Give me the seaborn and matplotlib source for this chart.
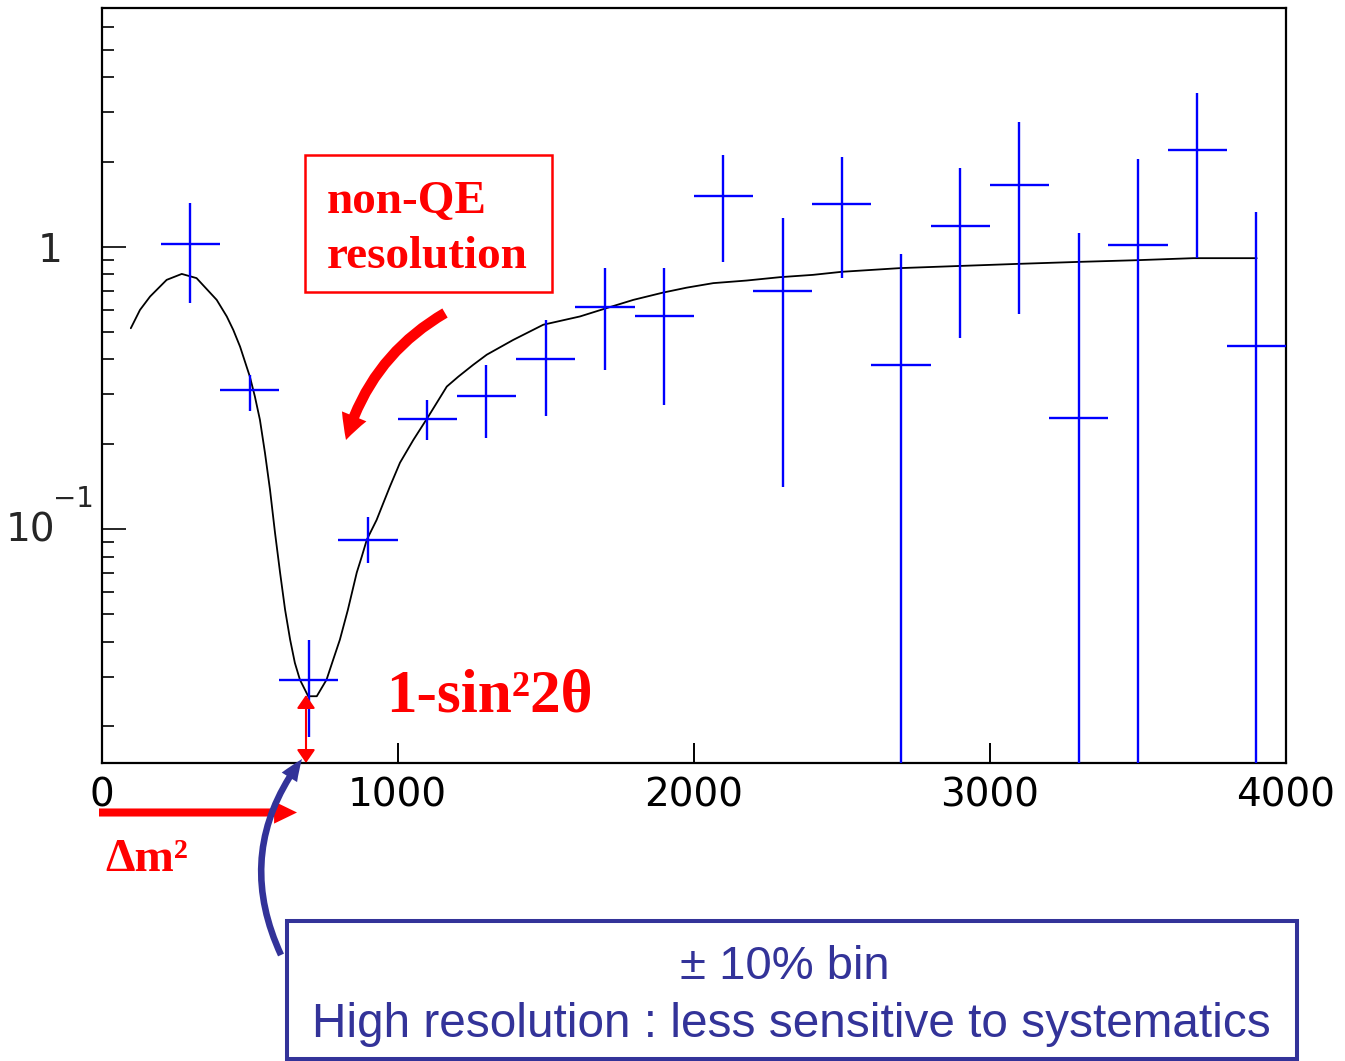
import numpy as np
import pandas as pd
import matplotlib
matplotlib.use("Agg")
import matplotlib.pyplot as plt
import seaborn as sns
from matplotlib.patches import FancyArrowPatch, Rectangle, ArrowStyle
from matplotlib.ticker import LogLocator, FixedLocator, NullFormatter
import matplotlib.transforms as mtrans

# ---------------- data ----------------
bin_centers = [300, 500, 700, 900, 1100, 1300, 1500, 1700, 1900, 2100,
               2300, 2500, 2700, 2900, 3100, 3300, 3500, 3700, 3900]
ratio = [1.02, 0.31, 0.0293, 0.0918, 0.2455, 0.297, 0.400, 0.612, 0.567, 1.515,
         0.695, 1.42, 0.381, 1.19, 1.658, 0.248, 1.016, 2.20, 0.446]
ratio_high = [1.43, 0.352, 0.0406, 0.110, 0.287, 0.382, 0.552, 0.845, 0.845, 2.12,
              1.27, 2.08, 0.945, 1.90, 2.78, 1.124, 2.05, 3.52, 1.33]
ratio_low = [0.634, 0.263, 0.0183, 0.0759, 0.207, 0.210, 0.251, 0.367, 0.276, 0.885,
             0.141, 0.777, 0.001, 0.474, 0.579, 0.001, 0.001, 0.912, 0.001]
bin_half_width = 100

curve_x = [99, 130, 164, 220, 271, 321, 389, 423, 445, 468, 501, 518, 535, 552,
           569, 586, 603, 620, 637, 653, 670, 698, 727, 760, 782, 805, 832, 862,
           879, 896, 929, 952, 974, 1008, 1053, 1104, 1166, 1205, 1255, 1301,
           1390, 1492, 1616, 1706, 1796, 1897, 1976, 2066, 2179, 2291, 2403,
           2500, 2697, 2900, 3102, 3304, 3496, 3687, 3901]
curve_y = [0.515, 0.598, 0.667, 0.764, 0.802, 0.775, 0.649, 0.567, 0.508, 0.443,
           0.347, 0.295, 0.244, 0.1864, 0.138, 0.097, 0.0702, 0.0518, 0.0406,
           0.0336, 0.0293, 0.0256, 0.0256, 0.0293, 0.0344, 0.0406, 0.0518, 0.0702,
           0.080, 0.0918, 0.1078, 0.124, 0.1416, 0.172, 0.207, 0.251, 0.320, 0.347,
           0.382, 0.415, 0.468, 0.530, 0.567, 0.607, 0.649, 0.689, 0.717, 0.744,
           0.760, 0.781, 0.796, 0.816, 0.841, 0.856, 0.871, 0.885, 0.897, 0.912,
           0.912]

x_ticks = [0, 1000, 2000, 3000, 4000]
x_tick_labels = ["0", "1000", "2000", "3000", "4000"]

# ---------------- style ----------------
sns.set_style("white")
plt.rcParams["font.family"] = ["DejaVu Sans"]

W, H = 1345, 1061
fig = plt.figure(figsize=(W / 100, H / 100), dpi=100)
fig.patch.set_facecolor("white")


def fp(x, y):
    """top-left pixel -> figure fraction"""
    return (x / W, 1 - y / H)


ax_left, ax_right, ax_top, ax_bottom = 101.5, 1286, 8.3, 763
ax = fig.add_axes([ax_left / W, 1 - ax_bottom / H,
                   (ax_right - ax_left) / W, (ax_bottom - ax_top) / H])

df_curve = pd.DataFrame({"x": curve_x, "y": curve_y})
sns.lineplot(data=df_curve, x="x", y="y", sort=False, estimator=None,
             color="black", linewidth=1.3, ax=ax)

r = np.array(ratio)
yerr = [r - np.array(ratio_low), np.array(ratio_high) - r]
ax.errorbar(bin_centers, ratio, xerr=bin_half_width, yerr=yerr, fmt="none",
            ecolor="#0000ff", elinewidth=1.7, capsize=0, zorder=3)

ax.set_yscale("log")
ax.set_xlim(0, 4000)
ax.set_ylim(0.01485, 7.0)
ax.set_xlabel("")
ax.set_ylabel("")

for s in ax.spines.values():
    s.set_visible(True)
    s.set_color("black")
    s.set_linewidth(1.6)

ax.xaxis.set_major_locator(FixedLocator(x_ticks))
ax.set_xticklabels(x_tick_labels)
ax.yaxis.set_major_locator(FixedLocator([0.1, 1.0]))
ax.yaxis.set_minor_locator(LogLocator(base=10, subs=np.arange(2, 10)))
ax.yaxis.set_major_formatter(NullFormatter())
ax.yaxis.set_minor_formatter(NullFormatter())
ax.tick_params(axis="x", which="major", direction="in", length=14.4, width=1.4,
               labelsize=28, pad=10, bottom=True, top=False, colors="black")
ax.tick_params(axis="y", which="major", direction="in", length=17.5, width=1.4,
               left=True, right=False)
ax.tick_params(axis="y", which="minor", direction="in", length=8.6, width=1.4,
               left=True, right=False)

blend = mtrans.blended_transform_factory(ax.transAxes, ax.transData)
ax.annotate("1", xy=(0, 1.0), xycoords=blend, xytext=(-39, -15),
            textcoords="offset pixels", ha="right", va="baseline", fontsize=28)
ax.annotate("10", xy=(0, 0.1), xycoords=blend, xytext=(-46, -12),
            textcoords="offset pixels", ha="right", va="baseline", fontsize=28,
            annotation_clip=False)
ax.annotate("\u22121", xy=(0, 0.1), xycoords=blend, xytext=(-48, 22),
            textcoords="offset pixels", ha="left", va="baseline", fontsize=20,
            annotation_clip=False)

# ---------------- annotations ----------------
red = "#ff0000"
navy = "#333399"
serif = ["Liberation Serif", "DejaVu Serif"]
sans = ["Liberation Sans", "DejaVu Sans"]

# red box
x0, y0 = fp(305, 292)
x1, y1 = fp(552, 155)
fig.add_artist(Rectangle((x0, y0), x1 - x0, y1 - y0, transform=fig.transFigure,
                         fill=False, edgecolor=red, linewidth=1.8))
fig.text(*fp(327, 213), "non-QE", color=red, fontsize=34, fontweight="bold",
         family=serif, ha="left", va="baseline")
fig.text(*fp(327, 268), "resolution", color=red, fontsize=34, fontweight="bold",
         family=serif, ha="left", va="baseline")

# red curved arrow
fig.add_artist(FancyArrowPatch(fp(445, 313), fp(346, 440), transform=fig.transFigure,
                               arrowstyle=ArrowStyle.Simple(head_length=18, head_width=19,
                                                            tail_width=7.6),
                               connectionstyle="arc3,rad=0.2", mutation_scale=1,
                               color=red, linewidth=0, shrinkA=0, shrinkB=0))

# 1-sin^2 2theta
fig.text(*fp(386, 712), "1-sin\u00b22\u03b8", color=red, fontsize=44, fontweight="bold",
         family=serif, ha="left", va="baseline")

# red vertical double arrow
fig.add_artist(FancyArrowPatch(fp(306, 763), fp(306, 695), transform=fig.transFigure,
                               arrowstyle=ArrowStyle("<|-|>", head_length=8, head_width=5.5),
                               mutation_scale=1, color=red, linewidth=1.5,
                               shrinkA=0, shrinkB=0))

# red horizontal arrow
fig.add_artist(FancyArrowPatch(fp(99, 812.5), fp(297, 812.5), transform=fig.transFigure,
                               arrowstyle=ArrowStyle.Simple(head_length=16.5, head_width=16,
                                                            tail_width=5.8),
                               mutation_scale=1, color=red, linewidth=0,
                               shrinkA=0, shrinkB=0))
fig.text(*fp(105, 871), "\u0394m\u00b2", color=red, fontsize=34, fontweight="bold",
         family=serif, ha="left", va="baseline")

# blue curved arrow
fig.add_artist(FancyArrowPatch(fp(281, 955), fp(302, 759), transform=fig.transFigure,
                               arrowstyle=ArrowStyle.Simple(head_length=16, head_width=13,
                                                            tail_width=4.7),
                               connectionstyle="arc3,rad=-0.3", mutation_scale=1,
                               color=navy, linewidth=0, shrinkA=0, shrinkB=0))

# blue box
x0, y0 = fp(287, 1059)
x1, y1 = fp(1297, 921)
fig.add_artist(Rectangle((x0, y0), x1 - x0, y1 - y0, transform=fig.transFigure,
                         fill=False, edgecolor=navy, linewidth=2.9))
fig.text(*fp(785, 979), "\u00b1 10% bin", color=navy, fontsize=34,
         family=sans, ha="center", va="baseline")
fig.text(*fp(791, 1037), "High resolution : less sensitive to systematics", color=navy,
         fontsize=34.4, family=sans, ha="center", va="baseline")

fig.savefig("out.png", dpi=100)
